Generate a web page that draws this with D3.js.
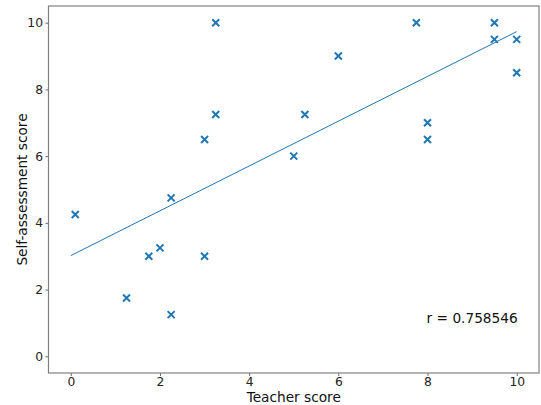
<!DOCTYPE html>
<html>
<head>
<meta charset="utf-8">
<script src="https://cdn.jsdelivr.net/npm/d3@7"></script>
<style>
  body { margin: 0; background: #fff; }
  svg { font-family: "DejaVu Sans", sans-serif; }
</style>
</head>
<body>
<svg id="chart" width="541" height="405"></svg>
<script>
    // Data
    var teacherScores = [0.1, 1.25, 1.75, 2, 2.25, 2.25, 3, 3, 3.25, 3.25,
                         5, 5.25, 6, 7.75, 8, 8, 9.5, 9.5, 10, 10];
    var selfScores    = [4.25, 1.75, 3, 3.25, 4.75, 1.25, 6.5, 3, 10, 7.25,
                         6, 7.25, 9, 10, 7, 6.5, 10, 9.5, 9.5, 8.5];
    var tickValues = [0, 2, 4, 6, 8, 10];
    var fitRange = [0, 10];
    var rLabel = "r = 0.758546";

    var data = teacherScores.map((d, i) => ({x: d, y: selfScores[i]}));

    var margin = {top: 6, right: 2, bottom: 32, left: 48.5},
        width = 541 - margin.left - margin.right,
        height = 405 - margin.top - margin.bottom;

    var svg = d3.select("#chart")
        .append("g")
        .attr("transform", "translate(" + margin.left + "," + margin.top + ")");

    var x = d3.scaleLinear().domain([-0.5, 10.5]).range([0, width]);
    var y = d3.scaleLinear().domain([-0.5, 10.5]).range([height, 0]);

    // least squares fit
    var mx = d3.mean(teacherScores), my = d3.mean(selfScores);
    var sxy = d3.sum(data, d => (d.x - mx) * (d.y - my));
    var sxx = d3.sum(data, d => (d.x - mx) * (d.x - mx));
    var slope = sxy / sxx, intercept = my - slope * mx;

    // axes
    var xAxis = svg.append("g")
        .attr("transform", "translate(0," + height + ")")
        .call(d3.axisBottom(x).tickValues(tickValues).tickSize(3).tickPadding(1.5));
    var yAxis = svg.append("g")
        .call(d3.axisLeft(y).tickValues(tickValues).tickSize(3).tickPadding(2.5));
    [xAxis, yAxis].forEach(function(a) {
        a.select(".domain").remove();
        a.selectAll("line").attr("stroke", "#444").attr("stroke-width", 0.8);
        a.selectAll("text").attr("font-size", 12.3).attr("fill", "#222")
            .style("font-family", "DejaVu Sans");
    });

    // frame
    svg.append("rect")
        .attr("width", width).attr("height", height)
        .attr("fill", "none").attr("stroke", "#808080").attr("stroke-width", 1.2);

    // fit line
    svg.append("line")
        .attr("x1", x(fitRange[0])).attr("y1", y(intercept + slope * fitRange[0]))
        .attr("x2", x(fitRange[1])).attr("y2", y(intercept + slope * fitRange[1]))
        .attr("stroke", "#1f77b4").attr("stroke-width", 1);

    // x markers
    var s = 3.5;
    svg.selectAll(".pt").data(data).enter()
        .append("path")
        .attr("class", "pt")
        .attr("transform", d => "translate(" + x(d.x) + "," + y(d.y) + ")")
        .attr("d", "M" + -s + "," + -s + "L" + s + "," + s + "M" + -s + "," + s + "L" + s + "," + -s)
        .attr("stroke", "#1f77b4").attr("stroke-width", 2).attr("fill", "none");

    // r annotation
    svg.append("text")
        .attr("x", x(10) + 1).attr("y", 322.7 - margin.top)
        .attr("text-anchor", "end")
        .attr("font-size", 13.7).attr("fill", "#111")
        .text(rLabel);

    // labels
    svg.append("text")
        .attr("x", width / 2).attr("y", 401.5 - margin.top)
        .attr("text-anchor", "middle")
        .attr("font-size", 13.7).attr("fill", "#111")
        .text("Teacher score");
    svg.append("text")
        .attr("transform", "rotate(-90)")
        .attr("x", -height / 2).attr("y", 27 - margin.left)
        .attr("text-anchor", "middle")
        .attr("font-size", 13.7).attr("fill", "#111")
        .text("Self-assessment score");
</script>
</body>
</html>
